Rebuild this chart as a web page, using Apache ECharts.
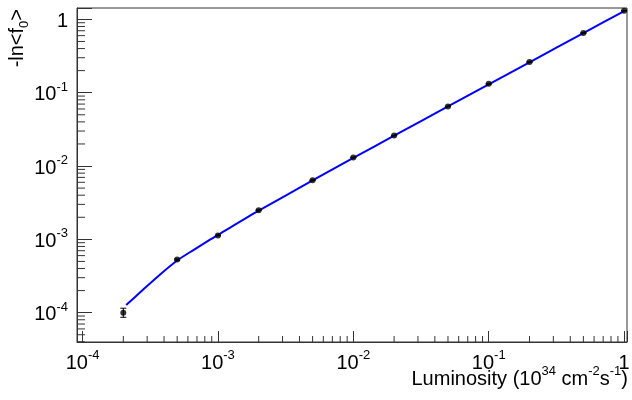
<!DOCTYPE html>
<html>
<head>
<meta charset="utf-8">
<script src="https://cdn.jsdelivr.net/npm/echarts@6/dist/echarts.min.js"></script>
<style>
  html, body { margin: 0; padding: 0; background: #fff; }
  #chart { width: 632px; height: 400px; }
</style>
</head>
<body>
<div id="chart"></div>
<script>
// measured points
var lumi = [2e-4, 5e-4, 1e-3, 2e-3, 5e-3, 1e-2, 2e-2, 5e-2, 0.1, 0.2, 0.5, 1];
var lnf0 = [1.0e-4, 5.3e-4, 1.13e-3, 2.5e-3, 6.4e-3, 1.31e-2, 2.6e-2, 6.5e-2, 0.132, 0.262, 0.65, 1.31];
var errLo = [1.35e-5, 1e-5, 1e-5, 2e-5, 4e-5, 8e-5, 1.5e-4, 3e-4, 6e-4, 1e-3, 2e-3, 4e-3];
var errHi = [1.5e-5, 1e-5, 1e-5, 2e-5, 4e-5, 8e-5, 1.5e-4, 3e-4, 6e-4, 1e-3, 2e-3, 4e-3];

// fit curve
var fitX = [2.1e-4, 2.83e-4, 3.76e-4, 5e-4, 6.63e-4, 8.8e-4, 1e-3, 2e-3, 5e-3, 1e-2, 2e-2, 5e-2, 0.1, 0.2, 0.5, 1];
var fitY = [1.27e-4, 2.1e-4, 3.35e-4, 5.15e-4, 7.2e-4, 1.0e-3, 1.15e-3, 2.46e-3, 6.35e-3, 1.29e-2, 2.59e-2, 6.5e-2, 0.13, 0.26, 0.65, 1.3];

var xRange = [9.1e-5, 1.05];
var yRange = [3.98e-5, 1.43];

var FONT = '"Liberation Sans", Arial, Helvetica, sans-serif';
var LINE = '#333';

function minorTicks(lo, hi) {
  var out = [];
  for (var e = Math.floor(Math.log10(lo)); e <= Math.ceil(Math.log10(hi)); e++) {
    for (var m = 2; m <= 9; m++) {
      var v = m * Math.pow(10, e);
      if (v > lo && v < hi) out.push(v);
    }
  }
  return out;
}
var xMinor = minorTicks(xRange[0], xRange[1]);
var yMinor = minorTicks(yRange[0], yRange[1]);

var rich = {
  b: { fontSize: 20, fontFamily: FONT, color: '#000', lineHeight: 24, verticalAlign: 'bottom' },
  s: { fontSize: 13, fontFamily: FONT, color: '#000', lineHeight: 24, verticalAlign: 'top' }
};

function powLabel(v) {
  var e = Math.log10(v);
  if (Math.abs(e - Math.round(e)) > 1e-6) return '';
  e = Math.round(e);
  if (e === 0) return '{b|1}';
  return '{b|10}{s|' + e + '}';
}

var myChart = echarts.init(document.getElementById('chart'));

myChart.setOption({
  animation: false,
  backgroundColor: '#fff',
  grid: {
    left: 77, right: 5, top: 8, bottom: 58,
    show: true, borderColor: LINE, borderWidth: 1,
    containLabel: false, outerBoundsMode: 'none'
  },
  xAxis: {
    type: 'log',
    min: xRange[0], max: xRange[1],
    axisLine: { lineStyle: { color: LINE, width: 1 } },
    axisTick: { inside: true, length: 11, lineStyle: { color: LINE } },
    splitLine: { show: false },
    axisLabel: { margin: 7, formatter: powLabel, rich: rich }
  },
  yAxis: {
    type: 'log',
    min: yRange[0], max: yRange[1],
    axisLine: { lineStyle: { color: LINE, width: 1 } },
    axisTick: { inside: true, length: 15, lineStyle: { color: LINE } },
    splitLine: { show: false },
    axisLabel: { margin: 9, formatter: powLabel, rich: rich }
  },
  graphic: [
    {
      type: 'text', x: 628, y: 377,
      style: {
        text: '{b|Luminosity (10}{s|34}{b| cm}{s|-2}{b|s}{s|-1}{b|)}',
        rich: rich, align: 'right', verticalAlign: 'middle'
      }
    },
    {
      type: 'text', x: 19, y: 9, rotation: Math.PI / 2,
      style: {
        text: '{b|-ln<f}{u|0}{b|>}',
        rich: {
          b: { fontSize: 20, fontFamily: FONT, color: '#000', lineHeight: 24, verticalAlign: 'top' },
          u: { fontSize: 13, fontFamily: FONT, color: '#000', lineHeight: 24, verticalAlign: 'bottom' }
        },
        align: 'right', verticalAlign: 'middle'
      }
    }
  ],
  series: [
    {
      type: 'custom',
      silent: true,
      data: xMinor,
      renderItem: function (params, api) {
        var cs = params.coordSys;
        var px = api.coord([api.value(0), 1e-2])[0];
        var yb = cs.y + cs.height;
        return { type: 'line', shape: { x1: px, y1: yb, x2: px, y2: yb - 6 }, style: { stroke: LINE, lineWidth: 1 } };
      }
    },
    {
      type: 'custom',
      silent: true,
      data: yMinor.map(function (v) { return [1e-2, v]; }),
      renderItem: function (params, api) {
        var cs = params.coordSys;
        var py = api.coord([1e-2, api.value(1)])[1];
        return { type: 'line', shape: { x1: cs.x, y1: py, x2: cs.x + 8, y2: py }, style: { stroke: LINE, lineWidth: 1 } };
      }
    },
    {
      type: 'line',
      data: fitX.map(function (x, i) { return [x, fitY[i]]; }),
      showSymbol: false,
      smooth: 0.25,
      lineStyle: { color: '#0000ff', width: 2 },
      z: 3
    },
    {
      type: 'custom',
      data: lumi.map(function (x, i) { return [x, lnf0[i], lnf0[i] - errLo[i], lnf0[i] + errHi[i]]; }),
      renderItem: function (params, api) {
        var lo = api.coord([api.value(0), api.value(2)]);
        var hi = api.coord([api.value(0), api.value(3)]);
        var st = { stroke: '#000', lineWidth: 1 };
        return {
          type: 'group',
          children: [
            { type: 'line', shape: { x1: lo[0], y1: lo[1], x2: hi[0], y2: hi[1] }, style: st },
            { type: 'line', shape: { x1: lo[0] - 3, y1: lo[1], x2: lo[0] + 3, y2: lo[1] }, style: st },
            { type: 'line', shape: { x1: hi[0] - 3, y1: hi[1], x2: hi[0] + 3, y2: hi[1] }, style: st }
          ]
        };
      },
      z: 4
    },
    {
      type: 'scatter',
      data: lumi.map(function (x, i) { return [x, lnf0[i]]; }),
      symbol: 'circle',
      symbolSize: 6,
      itemStyle: { color: '#000' },
      z: 5
    }
  ]
});
</script>
</body>
</html>
